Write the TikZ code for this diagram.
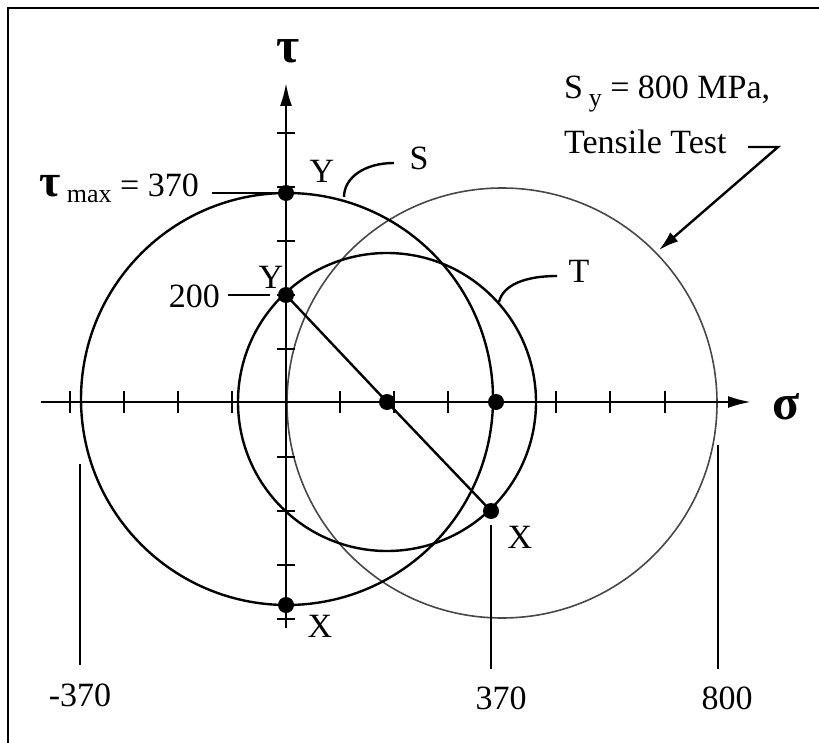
\documentclass[tikz,border=0pt]{standalone}
\usepackage{fontspec}
\setmainfont{Liberation Serif}
\usetikzlibrary{arrows.meta}
\begin{document}
\begin{tikzpicture}[x=1pt,y=-1pt,
  ln/.style={line width=2.4pt},
  thinln/.style={line width=1.6pt,draw=black!72},
  dotnode/.style={circle,fill=black,inner sep=0pt,minimum size=16pt},
  lbl/.style={inner sep=0pt,font=\fontsize{34}{34}\selectfont},
  grk/.style={inner sep=0pt,font=\fontsize{50}{50}\selectfont\bfseries},
  tipa/.style={-{Latex[length=23pt,width=12pt]}}]
\useasboundingbox (0,0) rectangle (819,743);
% frame (top and left edges)
\draw[ln] (8,743) -- (8,8) -- (819,8);
% circles
\draw[thinln] (502,403) circle[radius=215];
\draw[ln] (287,399) circle[radius=206];
\draw[ln] (387,402) circle[radius=149];
% axes
\coordinate (sL) at (41,402);
\coordinate (sR) at (751,402);
\coordinate (tB) at (286,628);
\coordinate (tT) at (286,83);
\draw[ln,tipa] (sL) -- (sR);
\draw[ln,tipa] (tB) -- (tT);
% ticks
\foreach \x in {70,124,178,232,340,394,448,556,610,665}
  \draw[ln] (\x,391) -- (\x,413);
\foreach \y in {133,187,241,295,349,457,511,565,619}
  \draw[ln] (277,\y) -- (295,\y);
% points
\node[dotnode] (Ys) at (286,193) {};
\node[dotnode] (Xs) at (286,605) {};
\node[dotnode] (Yt) at (286,295) {};
\node[dotnode] (Xt) at (491,511) {};
\node[dotnode] (Ct) at (387,402) {};
\node[dotnode] (Cs) at (496,402) {};
\draw[ln] (Yt.center) -- (Ct.center) -- (Xt.center);
% axis labels
\node[grk,anchor=base] (tau) at (288,63) {τ};
\node[grk,anchor=base] (sig) at (786,419) {σ};
% left labels
\node[lbl,anchor=base east] (tmax) at (199,197) {{\fontsize{46}{46}\selectfont\bfseries τ}\,\raisebox{-6pt}{\fontsize{26}{26}\selectfont max} = 370};
\coordinate (tmaxE) at (212,193);
\draw[ln] (tmaxE) -- (Ys.center);
\node[lbl,anchor=base east] (t200) at (220,307) {200};
\coordinate (t200E) at (228,295);
\coordinate (t200F) at (270,295);
\draw[ln] (t200E) -- (t200F);
% point labels
\node[lbl,anchor=base] (lY1) at (322,183) {Y};
\node[lbl,anchor=base] (lY2) at (271,289) {Y};
\node[lbl,anchor=base] (lX1) at (320,637) {X};
\node[lbl,anchor=base] (lX2) at (520,548) {X};
% circle labels
\node[lbl,anchor=base] (lS) at (419,170) {S};
\coordinate (sA) at (344,197);
\coordinate (sB) at (394,163);
\draw[ln] (sA) .. controls (344,178) and (364,163) .. (sB);
\node[lbl,anchor=base] (lT) at (579,283) {T};
\coordinate (tA) at (499,302);
\coordinate (tB2) at (557,276);
\draw[ln] (tA) .. controls (503,285) and (525,276) .. (tB2);
% tensile test
\node[lbl,anchor=base west] (sy) at (564,99) {S\,\raisebox{-8pt}{\fontsize{26}{26}\selectfont y} = 800 MPa,};
\node[lbl,anchor=base west] (tt) at (564,154) {Tensile Test};
\coordinate (ttA) at (748,147);
\coordinate (ttB) at (778,147);
\coordinate (ttC) at (659,250);
\draw[ln,-{Latex[length=20pt,width=12pt]}] (ttA) -- (ttB) -- (ttC);
% value lines
\coordinate (v1a) at (80,464); \coordinate (v1b) at (80,665);
\coordinate (v2a) at (491,525); \coordinate (v2b) at (491,669);
\coordinate (v3a) at (718,445); \coordinate (v3b) at (718,669);
\draw[ln] (v1a) -- (v1b);
\draw[ln] (v2a) -- (v2b);
\draw[ln] (v3a) -- (v3b);
\node[lbl,anchor=base] (n1) at (80,706) {-370};
\node[lbl,anchor=base] (n2) at (501,709) {370};
\node[lbl,anchor=base] (n3) at (727,709) {800};
\end{tikzpicture}
\end{document}
